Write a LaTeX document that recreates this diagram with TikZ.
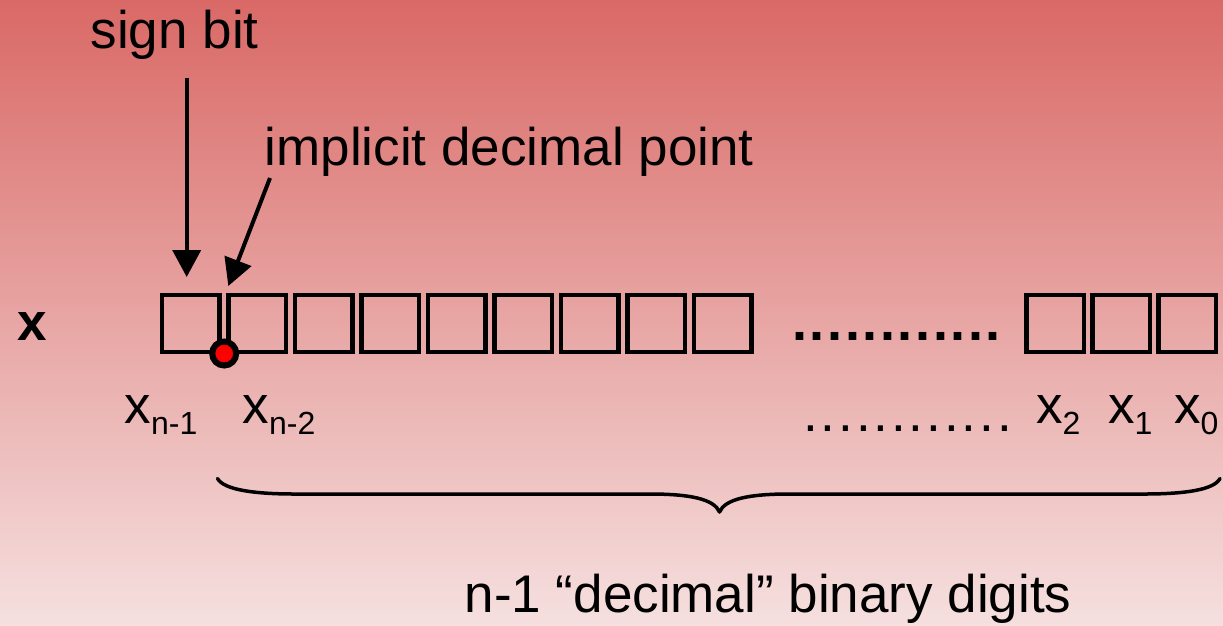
\documentclass[tikz,border=0pt]{standalone}
\usepackage{fontspec}
\setmainfont{Liberation Sans}
\usetikzlibrary{arrows.meta}
\definecolor{bgtop}{RGB}{217,105,102}
\definecolor{bgbot}{RGB}{245,224,223}
\definecolor{pointred}{RGB}{255,0,0}
% lowered subscript for the bit indices
\newcommand\bitsub[1]{\raisebox{-11pt}{\fontsize{32}{36}\selectfont #1}}
\begin{document}
\begin{tikzpicture}[x=1pt,y=-1pt,
  bitbox/.style={draw=black,line width=4.5pt,minimum width=57.5pt,minimum height=57pt,inner sep=0pt},
  lbl/.style={inner sep=0pt,anchor=base west,font=\fontsize{53}{60}\selectfont},
  pointer/.style={line width=4pt,-{Triangle[width=28pt,length=27pt]}},
  bracepath/.style={line width=3.5pt,line cap=round,line join=round}]
\useasboundingbox (0,0) rectangle (1223,625);
\shade[top color=bgtop,bottom color=bgbot] (0,0) rectangle (1223,625);

% register cells, left group
\foreach \i in {1,...,9}
  \node[bitbox] (b\i) at ({190.5+66.5*(\i-1)},323.4) {};
% register cells, right group
\node[bitbox] (r2) at (1055,323.4) {};
\node[bitbox] (r1) at (1121,323.4) {};
\node[bitbox] (r0) at (1187,323.4) {};

% implicit binary point
\node[circle,draw=black,line width=6pt,fill=pointred,minimum size=24pt,inner sep=0pt] (pt) at (224.2,353.5) {};

% labels
\node[lbl] (sign) at (90.5,48) {sign bit};
\node[lbl] (impl) at (264.5,165) {implicit decimal point};
\node[lbl,font=\fontsize{53}{60}\selectfont\bfseries] (xname) at (17,340) {x};
\node[lbl] (lnm1) at (124.5,423) {x\bitsub{n-1}};
\node[lbl] (lnm2) at (242.5,423) {x\bitsub{n-2}};
\node[lbl] (l2) at (1036,423) {x\bitsub{2}};
\node[lbl] (l1) at (1108,423) {x\bitsub{1}};
\node[lbl] (l0) at (1174,423) {x\bitsub{0}};
\node[lbl,font=\fontsize{54}{60}\selectfont\bfseries] (gapdots) at (792,340.3)
  {.\kern2.6pt.\kern2.6pt.\kern2.6pt.\kern2.6pt.\kern2.6pt.\kern2.6pt.\kern2.6pt.\kern2.6pt.\kern2.6pt.\kern2.6pt.\kern2.6pt.};
\node[lbl] (idxdots) at (803,431)
  {.\kern2.9pt.\kern2.9pt.\kern2.9pt.\kern2.9pt.\kern2.9pt.\kern2.9pt.\kern2.9pt.\kern2.9pt.\kern2.9pt.\kern2.9pt.\kern2.9pt.};
\node[lbl] (count) at (464.5,612) {n-1 “decimal” binary digits};

% pointers
\coordinate (signtail) at (186.7,78);
\coordinate (signtip) at (186.7,277);
\coordinate (impltail) at (270,178);
\coordinate (impltip) at (228.3,286);
\draw[pointer] (signtail) -- (signtip);
\draw[pointer] (impltail) -- (impltip);

% brace under the fraction bits
\coordinate (brl) at (217.5,478.5);
\coordinate (brtip) at (719.5,512);
\coordinate (brr) at (1220,478.5);
\draw[bracepath] (brl) .. controls (224,490) and (255,494) .. (295,494)
  -- (650,494) .. controls (690,494) and (714,499) .. (brtip)
  .. controls (725,499) and (749,494) .. (789,494)
  -- (1144,494) .. controls (1184,494) and (1214,490) .. (brr);
\end{tikzpicture}
\end{document}
